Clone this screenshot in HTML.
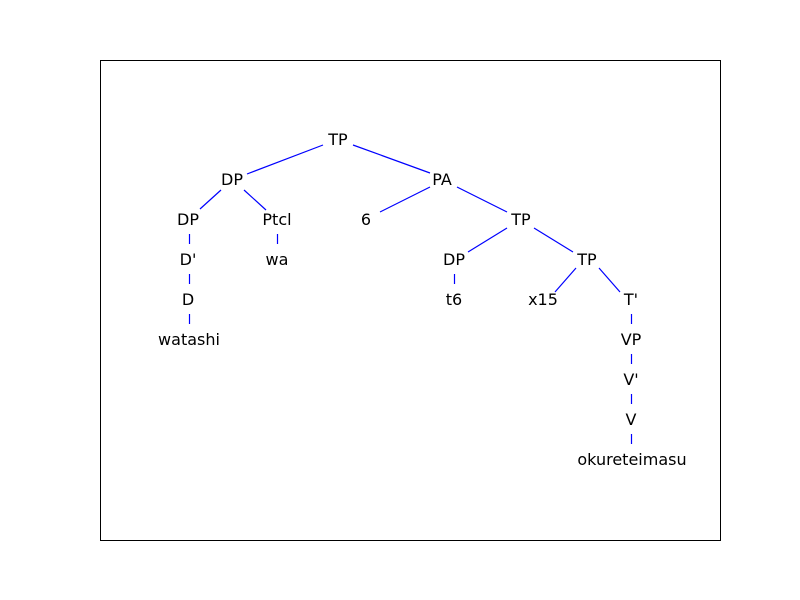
<!DOCTYPE html>
<html><head><meta charset="utf-8"><style>
html,body{margin:0;padding:0;background:#fff;}
svg{display:block;}
text{font-family:"DejaVu Sans","Liberation Sans",sans-serif;font-size:16px;fill:#000;text-anchor:middle;}
</style></head><body>
<svg width="800" height="600" viewBox="0 0 800 600">
<rect x="0" y="0" width="800" height="600" fill="#fff"/>
<rect x="100.5" y="60.5" width="620" height="480" fill="none" stroke="#000" stroke-width="1"/>
<g stroke="#0000ff" stroke-width="1.2" fill="none">
<line x1="323" y1="145" x2="247" y2="174"/>
<line x1="353" y1="145" x2="430" y2="173"/>
<line x1="221" y1="190" x2="200" y2="209"/>
<line x1="244" y1="190" x2="266" y2="210"/>
<line x1="430" y1="187" x2="380" y2="212"/>
<line x1="457" y1="187" x2="507" y2="212"/>
<line x1="507" y1="228" x2="468" y2="252"/>
<line x1="534" y1="228" x2="573" y2="252"/>
<line x1="576" y1="268" x2="555" y2="292"/>
<line x1="599" y1="268" x2="620" y2="292"/>
<line x1="189.5" y1="234" x2="189.5" y2="244"/>
<line x1="277.5" y1="234" x2="277.5" y2="244"/>
<line x1="189.5" y1="274" x2="189.5" y2="284"/>
<line x1="454.5" y1="274" x2="454.5" y2="284"/>
<line x1="189.5" y1="314" x2="189.5" y2="324"/>
<line x1="631.5" y1="314" x2="631.5" y2="324"/>
<line x1="631.5" y1="354" x2="631.5" y2="364"/>
<line x1="631.5" y1="394" x2="631.5" y2="404"/>
<line x1="631.5" y1="434" x2="631.5" y2="444"/>
</g>
<text x="338" y="145">TP</text>
<text x="232" y="185">DP</text>
<text x="442" y="185">PA</text>
<text x="188" y="225">DP</text>
<text x="277" y="225">Ptcl</text>
<text x="366" y="225">6</text>
<text x="521" y="225">TP</text>
<text x="188" y="265">D'</text>
<text x="277" y="265">wa</text>
<text x="454" y="265">DP</text>
<text x="587" y="265">TP</text>
<text x="188" y="305">D</text>
<text x="454" y="305">t6</text>
<text x="543" y="305">x15</text>
<text x="631" y="305">T'</text>
<text x="189" y="345">watashi</text>
<text x="631" y="345">VP</text>
<text x="631" y="385">V'</text>
<text x="631" y="425">V</text>
<text x="632" y="465">okureteimasu</text>
</svg>
</body></html>
